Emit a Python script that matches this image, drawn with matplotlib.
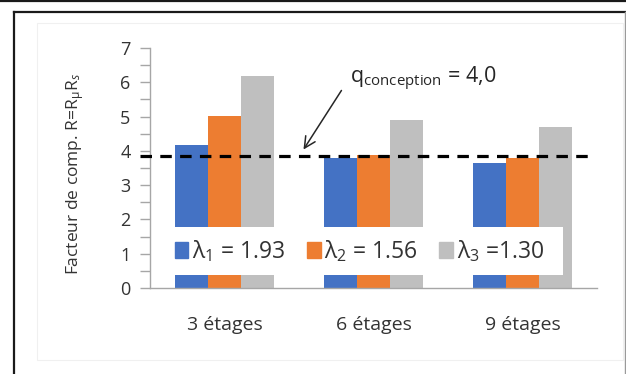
import matplotlib
matplotlib.use("Agg")
import matplotlib.pyplot as plt
from matplotlib.lines import Line2D
from matplotlib.patches import Rectangle, Patch
import numpy as np

plt.rcParams["font.family"] = ["Open Sans", "DejaVu Sans"]
plt.rcParams["mathtext.fontset"] = "custom"
plt.rcParams["mathtext.rm"] = "Open Sans"
plt.rcParams["mathtext.it"] = "Open Sans:italic"
plt.rcParams["mathtext.fallback"] = "stixsans"

# ── Data ───────────────────────────────────────────────────────────────────
categories = ["3 étages", "6 étages", "9 étages"]
lam1 = [4.17, 3.79, 3.64]   # λ1 = 1.93
lam2 = [5.01, 3.88, 3.79]   # λ2 = 1.56
lam3 = [6.18, 4.90, 4.69]   # λ3 = 1.30
series_labels = ["λ$_1$ = 1.93", "λ$_2$ = 1.56", "λ$_3$ =1.30"]
r_design = 3.85
q_label = "q$_{\\mathrm{conception}}$ = 4,0"

BLUE = "#4472C4"
ORANGE = "#ED7D31"
GRAY = "#BFBFBF"
TEXT = "#333333"
AXIS = "#A6A6A6"

W, H = 626, 374
fig = plt.figure(figsize=(W / 100, H / 100), dpi=100)
fig.patch.set_facecolor("white")

# frames around the chart
fig.add_artist(Line2D([0, 1], [1 - 1 / H, 1 - 1 / H], color="#1a1a1a", lw=1.6))
fig.add_artist(Line2D([14 / W, 1], [1 - 12 / H, 1 - 12 / H], color="#1a1a1a", lw=1.6))
fig.add_artist(Line2D([14 / W, 14 / W], [0, 1 - 12 / H], color="#1a1a1a", lw=1.6))
fig.add_artist(Line2D([624.5 / W, 624.5 / W], [0, 1 - 12 / H], color="#9a9a9a", lw=1.0))
fig.add_artist(Rectangle((37 / W, 1 - 360 / H), (623 - 37) / W, (360 - 23) / H,
                         fill=False, edgecolor="#f0f0f0", lw=0.8))

ax = fig.add_axes([150 / W, 1 - 288 / H, 447 / W, 240 / H])
ax.set_facecolor("none")

x = np.arange(len(categories))
w = 0.22
ax.bar(x - w, lam1, w, color=BLUE, zorder=2)
ax.bar(x,     lam2, w, color=ORANGE, zorder=2)
ax.bar(x + w, lam3, w, color=GRAY, zorder=2)

ax.set_xlim(-0.5, 2.5)
ax.set_ylim(0, 7)

# design reference line, running slightly past the left axis
ax.axhline(r_design, xmin=-0.022, xmax=0.98, color="black", lw=2.3,
           dashes=(3.6, 2.6), zorder=4, clip_on=False)

ax.annotate("", xy=(0.52, 3.97), xytext=(0.795, 5.83),
            arrowprops=dict(arrowstyle="->", color="#262626", lw=1.1,
                            mutation_scale=20))
ax.text(0.842, 5.98, q_label, fontsize=15.5, color="#262626",
        ha="left", va="baseline")

for s in ("top", "right"):
    ax.spines[s].set_visible(False)
for s in ("left", "bottom"):
    ax.spines[s].set_color(AXIS)
    ax.spines[s].set_linewidth(1.0)

ax.set_yticks(np.arange(0, 8, 1))
ax.set_yticks(np.arange(0.5, 7, 1), minor=True)
ax.tick_params(axis="y", which="both", direction="out", length=7, color=AXIS,
               width=1.0, labelsize=13, labelcolor=TEXT, pad=7)
ax.set_xticks(x)
ax.set_xticklabels(categories)
ax.tick_params(axis="x", length=0, labelsize=14, labelcolor=TEXT, pad=20)

fig.text(75 / W, 1 - 174 / H, "Facteur de comp. R=R$_\\mathrm{µ}$R$_s$",
         rotation=90, ha="center", va="center", fontsize=12.5, color=TEXT)

# white legend panel laid over the lower part of the bars
ax.add_patch(Rectangle((0.034, 0.055), 0.89, 0.198, transform=ax.transAxes,
                       facecolor="white", edgecolor="none", zorder=5))
handles = [Patch(color=c) for c in (BLUE, ORANGE, GRAY)]
leg = ax.legend(handles, series_labels, ncol=3, loc="center left",
                bbox_to_anchor=(0.055, 0.154), borderaxespad=0, borderpad=0,
                frameon=False, fontsize=16.5, handlelength=0.6,
                handleheight=0.65, handletextpad=0.15, columnspacing=0.95,
                labelcolor=TEXT)
leg.set_zorder(6)

fig.savefig("out.png", dpi=100, facecolor="white")
